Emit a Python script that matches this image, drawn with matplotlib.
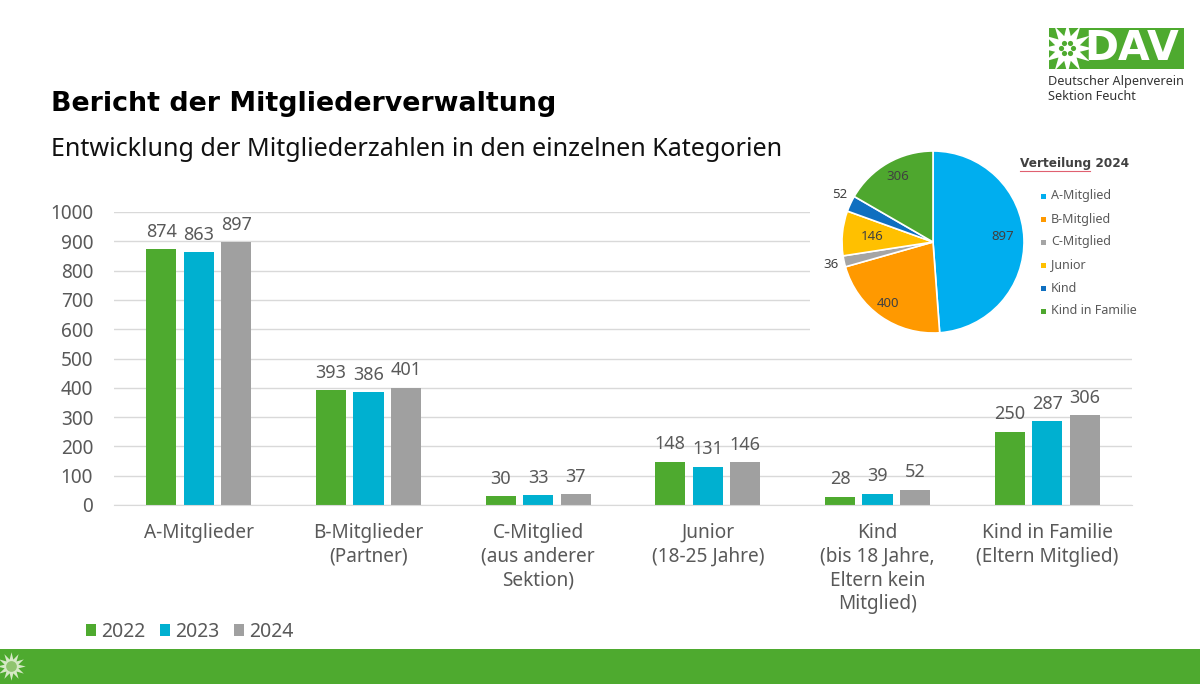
import matplotlib
matplotlib.use("Agg")
import matplotlib.pyplot as plt
import numpy as np
from matplotlib.patches import Rectangle

W, H = 1200, 684

categories = ["A-Mitglieder", "B-Mitglieder\n(Partner)", "C-Mitglied\n(aus anderer\nSektion)",
              "Junior\n(18-25 Jahre)", "Kind\n(bis 18 Jahre,\nEltern kein\nMitglied)",
              "Kind in Familie\n(Eltern Mitglied)"]
years = ["2022", "2023", "2024"]
values_2022 = [874, 393, 30, 148, 28, 250]
values_2023 = [863, 386, 33, 131, 39, 287]
values_2024 = [897, 401, 37, 146, 52, 306]
y_ticks = [0, 100, 200, 300, 400, 500, 600, 700, 800, 900, 1000]

pie_labels = ["A-Mitglied", "B-Mitglied", "C-Mitglied", "Junior", "Kind", "Kind in Familie"]
pie_values = [897, 400, 36, 146, 52, 306]

GREEN = "#4EAA2F"
BAR_COLORS = [GREEN, "#00B0D0", "#A0A0A0"]
PIE_COLORS = ["#00AEEF", "#FF9900", "#A5A5A5", "#FFC000", "#0F6FC0", "#4EA72E"]
TXT = "#595959"

plt.rcParams["font.family"] = ["Noto Sans", "DejaVu Sans"]


def axes_px(fig, x0, y0, x1, y1, **kw):
    # pixel box measured from the top left of the picture
    return fig.add_axes([x0 / W, 1 - y1 / H, (x1 - x0) / W, (y1 - y0) / H], **kw)


fig = plt.figure(figsize=(12, 6.84), dpi=100, facecolor="white")

# bar chart
ax = axes_px(fig, 114, 212, 1132, 505, zorder=1)
x = np.arange(len(categories))
step = 0.221
for i, (vals, year) in enumerate(zip([values_2022, values_2023, values_2024], years)):
    bars = ax.bar(x + (i - 1) * step, vals, width=0.177, color=BAR_COLORS[i], label=year, zorder=2)
    ax.bar_label(bars, padding=6, fontsize=13, color=TXT)
ax.set_xlim(-0.5, 5.5)
ax.set_ylim(0, 1000)
ax.set_yticks(y_ticks)
ax.set_xticks(x)
ax.set_xticklabels(categories, linespacing=1.25)
ax.tick_params(axis="both", length=0, labelsize=13.7, labelcolor=TXT)
ax.tick_params(axis="x", pad=13)
ax.tick_params(axis="y", pad=15)
ax.grid(axis="y", color="#D9D9D9", lw=1, zorder=0)
ax.set_axisbelow(True)
for side in ["top", "right", "left"]:
    ax.spines[side].set_visible(False)
ax.spines["bottom"].set_color("#D9D9D9")
ax.legend(loc="lower left", bbox_to_anchor=(86 / W, 1 - 642 / H), bbox_transform=fig.transFigure,
          ncol=3, frameon=False, fontsize=14, labelcolor=TXT, handlelength=0.52, handleheight=0.52,
          handletextpad=0.28, columnspacing=0.72, borderpad=0, borderaxespad=0)

# overlay for everything placed by pixel: footer, logo, headings, pie legend
ov = axes_px(fig, 0, 0, W, H, zorder=2)
ov.set_xlim(0, W)
ov.set_ylim(H, 0)
ov.axis("off")

ov.add_patch(Rectangle((0, 649), W, 35, color=GREEN, lw=0))
ov.scatter([11], [666], marker=(12, 1, 0), s=420, color="#D5E8C5", linewidths=0)
ov.scatter([11], [666], s=60, color="#8FC46F", linewidths=0)

# logo
ov.add_patch(Rectangle((1049, 28), 135, 41, color=GREEN, lw=0))
ov.scatter([1067], [48], marker=(12, 1, 0), s=1350, color="white", linewidths=0, zorder=3)
for ang in np.arange(0, 360, 60):
    ov.scatter([1067 + 6 * np.cos(np.radians(ang))], [48 + 6 * np.sin(np.radians(ang))],
               s=14, color=GREEN, linewidths=0, zorder=4)
ov.text(1132, 49, "DAV", color="white", fontsize=29.5, fontweight="bold", ha="center",
        va="center", family="DejaVu Sans", zorder=5)
ov.text(1048, 81, "Deutscher Alpenverein", color="#333333", fontsize=9.1, va="center")
ov.text(1048, 97, "Sektion Feucht", color="#333333", fontsize=9.1, va="center")

# headings
ov.text(51, 104, "Bericht der Mitgliederverwaltung", fontsize=19.4, fontweight="bold",
        color="black", va="center", family="DejaVu Sans")
ov.text(51, 150, "Entwicklung der Mitgliederzahlen in den einzelnen Kategorien",
        fontsize=18.1, color="#111111", va="center")

# white box of the pasted pie picture hides the gridlines behind it
ov.add_patch(Rectangle((810, 150), 330, 195, color="white", lw=0, zorder=1))

ov.text(1020, 164, "Verteilung 2024", fontsize=8.7, fontweight="bold", color="#404040",
        va="center", family="DejaVu Sans", zorder=3)
ov.plot([1020, 1090], [171, 171], color="#E06070", lw=0.8, zorder=3)
leg_y = [196, 219, 242, 265, 288, 311]
for yy, name, col in zip(leg_y, pie_labels, PIE_COLORS):
    ov.add_patch(Rectangle((1041, yy - 2.5), 5, 5, color=col, lw=0, zorder=3))
    ov.text(1051, yy, name, fontsize=9.0, color=TXT, va="center", zorder=3)

# pie inset
pax = axes_px(fig, 842, 151, 1024, 333, zorder=3)
pax.pie(pie_values, colors=PIE_COLORS, startangle=90, counterclock=False, radius=1,
        wedgeprops={"edgecolor": "white", "linewidth": 1.2})
pax.set_xlim(-1, 1)
pax.set_ylim(-1, 1)
pos = [(0.77, 0.06), (-0.49, -0.68), (-1.12, -0.25), (-0.67, 0.06), (-1.03, 0.52), (-0.39, 0.72)]
for (px_, py_), v in zip(pos, pie_values):
    pax.text(px_, py_, str(v), ha="center", va="center", fontsize=9.5, color="#404040",
             clip_on=False)

fig.savefig("out.png", dpi=100)
